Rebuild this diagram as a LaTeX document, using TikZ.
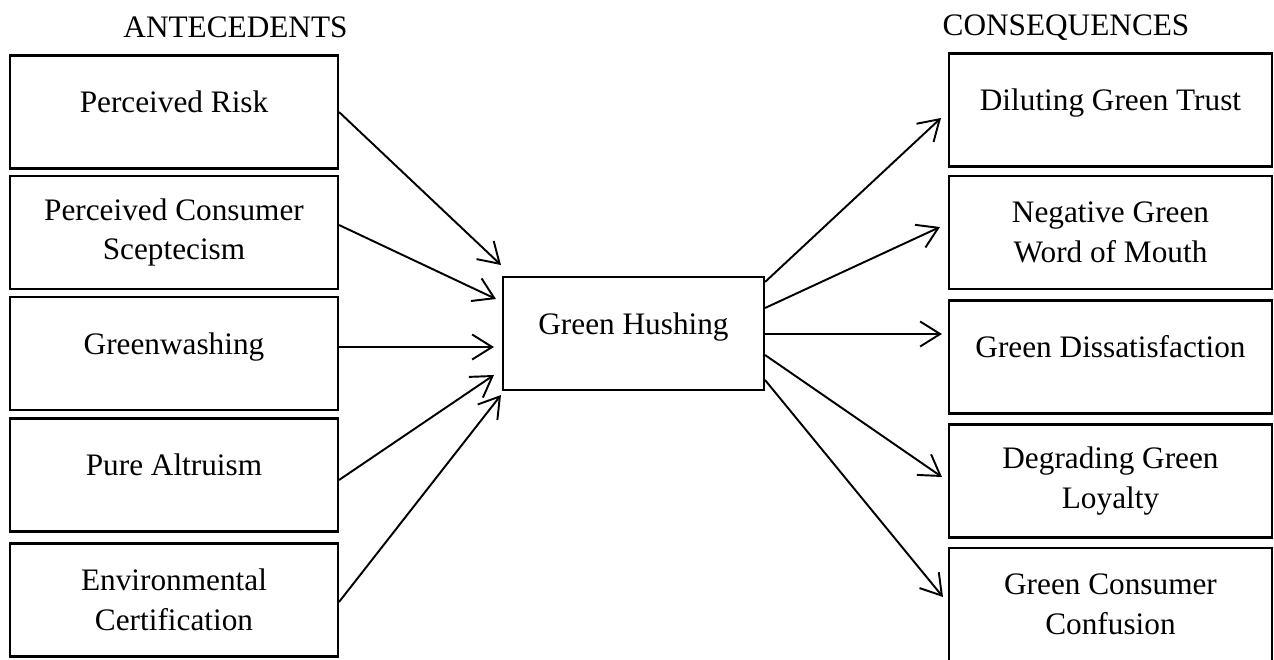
\documentclass[tikz,border=0pt]{standalone}
\usepackage{fontspec}
\setmainfont{Liberation Serif}
\usepackage{tikz}
\usetikzlibrary{calc, arrows.meta}

\begin{document}
\begin{tikzpicture}[x=0.02cm, y=-0.02cm,
    every node/.style={font=\fontsize{17.8}{22.7}\selectfont},
    boite/.style={draw, line width=1.2pt, minimum height=2.26cm, align=center, inner sep=2pt},
    seul/.style={text height=0.7em, text depth=0.6em},
    deux/.style={},
    fleche/.style={line width=1.1pt, -{Straight Barb[length=0.4cm, width=0.5cm]}}]
  \useasboundingbox (0,0) rectangle (1274,659);

  % Titres
  \node (antec) at (235.5,27.5) {ANTECEDENTS};
  \node (conseq) at (1066,27.5) {CONSEQUENCES};

  % Antécédents
  \foreach \nom/\y/\texte/\forme in {risque/112/Perceived Risk/seul,
      scept/232.5/{Perceived Consumer\\Sceptecism}/deux,
      green/353.5/Greenwashing/seul,
      altru/475/Pure Altruism/seul,
      certif/600/{Environmental\\Certification}/deux} {
    \node[boite, \forme, minimum width=6.56cm] (\nom) at (174,\y) {\texte};
  }

  % Green Hushing au milieu
  \node[boite, seul, minimum width=5.22cm] (hush) at (633.5,333.5) {Green Hushing};

  % Conséquences
  \foreach \nom/\y/\texte/\forme in {trust/110/Diluting Green Trust/seul,
      wom/232.5/{Negative Green\\Word of Mouth}/deux,
      dissat/357/Green Dissatisfaction/seul,
      loyal/481/{Degrading Green\\Loyalty}/deux,
      confus/604.5/{Green Consumer\\Confusion}/deux} {
    \node[boite, \forme, minimum width=6.46cm] (\nom) at (1110.5,\y) {\texte};
  }

  % Flèches vers Green Hushing
  \foreach \de/\dy/\dx/\vy in {risque/0/-1/-68.5, scept/-7.5/-6/-34.5,
      green/-6.5/-8/13.5, altru/5/-8/41.5, certif/2/-1/61.5} {
    \draw[fleche] ($(\de.east)+(0,\dy)$) -- ($(hush.west)+(\dx,\vy)$);
  }

  % Flèches depuis Green Hushing
  \foreach \vers/\dy/\dx/\vy in {trust/-51.5/-7/8, wom/-25.5/-8/-5.5,
      dissat/0.5/-6/-23, loyal/21.5/-6/-4, confus/46.5/-5/-7.5} {
    \draw[fleche] ($(hush.east)+(0,\dy)$) -- ($(\vers.west)+(\dx,\vy)$);
  }
\end{tikzpicture}
\end{document}
